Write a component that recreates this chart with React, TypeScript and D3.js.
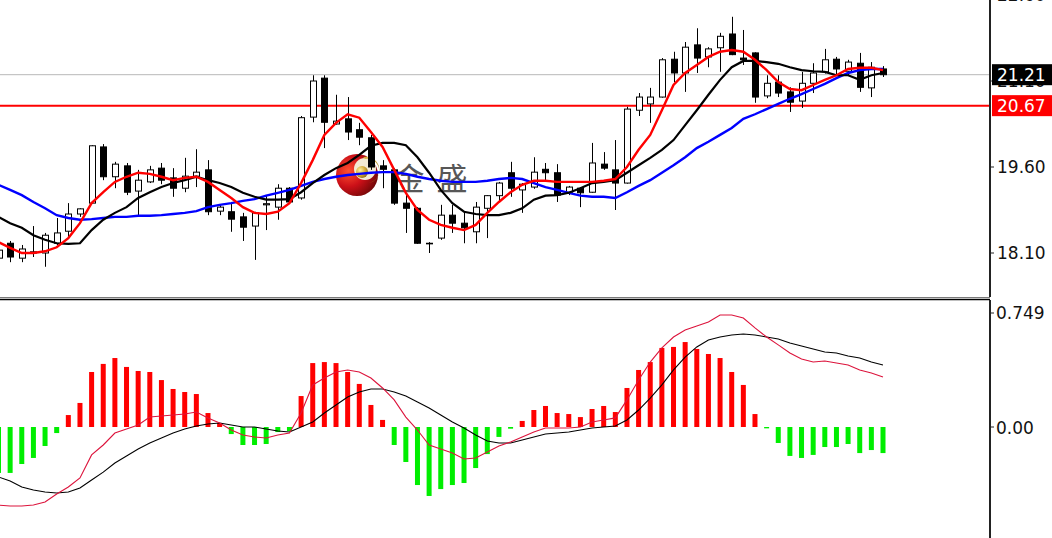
import React from 'react';
import * as d3 from 'd3';

// ---------- price data (one entry per bar) ----------
const opens = [
  18.01, 18.27, 18.01, 18.12, 18.10, 18.27, 18.48, 18.78, 18.97, 19.95,
  19.43, 19.62, 19.18, 19.34, 19.58, 19.41, 19.23, 19.44, 19.55, 18.83,
  18.82, 18.73, 18.57, 18.94, 18.90, 19.23, 19.06, 20.47, 21.15, 20.35,
  20.44, 20.25, 20.11, 19.62, 19.55, 18.97, 18.88, 18.27, 18.36, 18.76,
  18.62, 18.47, 18.88, 19.10, 19.50, 19.20, 19.25, 19.56, 19.50, 19.16,
  19.23, 19.16, 19.65, 19.55, 19.32, 20.59, 20.70, 20.82, 21.48, 21.24,
  21.73, 21.52, 21.68, 21.92, 21.50, 21.59, 20.84, 21.08, 20.91, 20.75,
  21.06, 21.26, 21.48, 21.27, 21.41, 20.98, 21.31,
];
const highs = [
  18.24, 18.31, 18.24, 18.57, 18.45, 18.71, 18.97, 18.88, 19.98, 20.00,
  19.69, 19.67, 19.55, 19.62, 19.67, 19.58, 19.76, 19.91, 19.72, 18.94,
  18.99, 18.80, 18.82, 19.11, 19.30, 19.25, 20.49, 21.20, 21.20, 20.86,
  20.82, 20.37, 20.16, 19.72, 19.58, 19.15, 18.90, 18.29, 18.94, 18.94,
  18.82, 18.99, 19.11, 19.34, 19.69, 19.32, 19.77, 19.67, 19.65, 19.27,
  19.25, 20.02, 19.86, 20.07, 20.65, 20.89, 20.98, 21.50, 21.61, 21.78,
  22.02, 21.69, 21.94, 22.22, 21.99, 21.60, 21.20, 21.20, 20.99, 21.26,
  21.41, 21.66, 21.52, 21.47, 21.59, 21.43, 21.36,
];
const lows = [
  17.80, 17.94, 17.94, 18.03, 17.86, 18.24, 18.38, 18.73, 18.96, 19.37,
  19.23, 19.11, 18.73, 19.32, 19.30, 19.08, 19.16, 19.25, 18.76, 18.76,
  18.47, 18.31, 17.98, 18.50, 18.68, 18.97, 19.03, 20.38, 19.93, 20.34,
  20.07, 19.98, 19.55, 19.23, 18.94, 18.45, 18.26, 18.10, 18.33, 18.45,
  18.27, 18.27, 18.36, 18.99, 19.08, 18.80, 19.22, 19.37, 18.99, 19.11,
  18.90, 19.15, 19.55, 18.85, 19.31, 20.49, 20.37, 20.81, 21.08, 20.91,
  21.24, 21.34, 21.26, 21.55, 21.38, 20.72, 20.80, 20.82, 20.56, 20.63,
  20.89, 21.23, 21.20, 21.20, 20.91, 20.82, 21.17,
];
const closes = [
  18.15, 18.03, 18.17, 18.10, 18.41, 18.45, 18.78, 18.87, 19.97, 19.43,
  19.65, 19.16, 19.37, 19.55, 19.37, 19.23, 19.44, 19.51, 18.82, 18.90,
  18.69, 18.55, 18.80, 18.96, 19.23, 18.99, 20.46, 21.10, 20.38, 20.40,
  20.21, 20.12, 19.60, 19.56, 18.97, 18.88, 18.27, 18.26, 18.76, 18.62,
  18.54, 18.90, 19.10, 19.32, 19.23, 19.30, 19.51, 19.50, 19.11, 19.25,
  19.15, 19.67, 19.58, 19.32, 20.61, 20.82, 20.82, 21.47, 21.24, 21.69,
  21.50, 21.66, 21.88, 21.56, 21.47, 20.82, 21.06, 20.89, 20.73, 21.06,
  21.24, 21.47, 21.31, 21.43, 20.99, 21.34, 21.21,
];

// ---------- moving averages ----------
const maFast = [
  18.29, 18.19, 18.10, 18.10, 18.13, 18.20, 18.36, 18.62, 18.97, 19.16,
  19.34, 19.43, 19.50, 19.48, 19.43, 19.37, 19.41, 19.43, 19.34, 19.20,
  19.06, 18.90, 18.80, 18.78, 18.82, 18.97, 19.32, 19.72, 20.16, 20.37,
  20.52, 20.46, 20.21, 19.95, 19.55, 19.15, 18.85, 18.68, 18.59, 18.54,
  18.50, 18.59, 18.80, 18.99, 19.16, 19.29, 19.36, 19.36, 19.34, 19.34,
  19.34, 19.34, 19.36, 19.39, 19.60, 19.90, 20.16, 20.59, 21.03, 21.24,
  21.38, 21.52, 21.61, 21.64, 21.61, 21.47, 21.29, 21.08, 20.96, 20.94,
  21.03, 21.12, 21.20, 21.31, 21.33, 21.33, 21.29,
];
const maMid = [
  18.73, 18.62, 18.54, 18.41, 18.33, 18.27, 18.26, 18.27, 18.50, 18.68,
  18.80, 18.90, 19.06, 19.16, 19.25, 19.32, 19.37, 19.43, 19.37, 19.32,
  19.25, 19.15, 19.08, 19.03, 19.03, 19.04, 19.16, 19.32, 19.46, 19.58,
  19.67, 19.81, 19.97, 20.02, 20.02, 19.98, 19.77, 19.50, 19.20, 18.97,
  18.82, 18.78, 18.76, 18.76, 18.80, 18.88, 19.03, 19.10, 19.11, 19.15,
  19.23, 19.32, 19.34, 19.37, 19.50, 19.63, 19.76, 19.90, 20.07, 20.33,
  20.59, 20.86, 21.12, 21.34, 21.45, 21.45, 21.43, 21.40, 21.34, 21.29,
  21.27, 21.26, 21.20, 21.20, 21.12, 21.20, 21.24,
];
const maSlow = [
  19.29, 19.20, 19.11, 18.99, 18.88, 18.76, 18.71, 18.68, 18.69, 18.71,
  18.73, 18.73, 18.75, 18.75, 18.76, 18.78, 18.80, 18.83, 18.90, 18.94,
  18.97, 19.01, 19.04, 19.10, 19.15, 19.20, 19.27, 19.34, 19.39, 19.43,
  19.46, 19.48, 19.50, 19.51, 19.51, 19.48, 19.43, 19.39, 19.36, 19.34,
  19.34, 19.34, 19.36, 19.39, 19.41, 19.39, 19.32, 19.25, 19.20, 19.15,
  19.10, 19.08, 19.08, 19.06, 19.16, 19.27, 19.37, 19.50, 19.63, 19.77,
  19.93, 20.04, 20.16, 20.28, 20.44, 20.52, 20.61, 20.70, 20.79, 20.87,
  20.96, 21.05, 21.15, 21.24, 21.29, 21.31, 21.31,
];

// ---------- MACD ----------
const macdHist = [
  -0.273, -0.273, -0.220, -0.184, -0.113, -0.036, 0.071, 0.143, 0.327, 0.375,
  0.410, 0.357, 0.333, 0.327, 0.279, 0.226, 0.208, 0.196, 0.083, 0.024,
  -0.042, -0.107, -0.107, -0.101, -0.030, -0.024, 0.184, 0.380, 0.386, 0.380,
  0.327, 0.256, 0.131, 0.042, -0.107, -0.208, -0.345, -0.410, -0.369, -0.345,
  -0.333, -0.244, -0.161, -0.059, -0.010, 0.036, 0.101, 0.125, 0.083, 0.077,
  0.059, 0.107, 0.125, 0.089, 0.232, 0.339, 0.386, 0.470, 0.476, 0.505,
  0.464, 0.434, 0.410, 0.327, 0.250, 0.077, -0.008, -0.095, -0.172, -0.184,
  -0.166, -0.119, -0.119, -0.101, -0.155, -0.137, -0.155,
];
const macdDif = [
  -0.464, -0.470, -0.470, -0.464, -0.446, -0.398, -0.357, -0.303, -0.166, -0.107,
  -0.036, -0.012, 0.012, 0.059, 0.065, 0.071, 0.077, 0.089, 0.054, 0.024,
  -0.018, -0.048, -0.059, -0.065, -0.048, -0.036, 0.083, 0.250, 0.291, 0.327,
  0.339, 0.327, 0.291, 0.232, 0.161, 0.059, -0.018, -0.107, -0.131, -0.155,
  -0.190, -0.184, -0.149, -0.113, -0.089, -0.059, -0.030, -0.006, -0.006, -0.006,
  0.000, 0.030, 0.042, 0.054, 0.161, 0.279, 0.386, 0.470, 0.535, 0.577,
  0.600, 0.624, 0.666, 0.666, 0.648, 0.589, 0.535, 0.488, 0.440, 0.404,
  0.386, 0.392, 0.380, 0.369, 0.339, 0.321, 0.297,
];
const macdDea = [
  -0.297, -0.321, -0.357, -0.375, -0.386, -0.392, -0.386, -0.363, -0.315, -0.268,
  -0.214, -0.172, -0.131, -0.095, -0.065, -0.036, -0.012, 0.006, 0.018, 0.024,
  0.012, 0.000, 0.000, -0.012, -0.024, -0.030, 0.000, 0.030, 0.083, 0.131,
  0.178, 0.208, 0.226, 0.226, 0.208, 0.184, 0.149, 0.113, 0.071, 0.030,
  -0.006, -0.048, -0.083, -0.095, -0.095, -0.077, -0.059, -0.042, -0.036, -0.030,
  -0.018, -0.006, 0.000, 0.006, 0.042, 0.101, 0.172, 0.250, 0.339, 0.416,
  0.476, 0.517, 0.535, 0.547, 0.553, 0.547, 0.535, 0.523, 0.499, 0.482,
  0.464, 0.446, 0.440, 0.422, 0.410, 0.386, 0.369,
];

// ---------- axis labels / levels ----------
const priceTicks = [22.6, 21.1, 19.6, 18.1];
const macdTop = 0.749;
const macdTicks = [0.749, 0];
const bidPrice = 21.21;
const levelPrice = 20.67;
const watermarkChars = ['金', '盛'];

const W = 1052;
const H = 538;
const AXIS_X = 990;
const MAIN_BOTTOM = 297;
const SUB_TOP = 300;
const FONT = '"DejaVu Sans", Verdana, sans-serif';

export default function App() {
  const n = closes.length;
  const x = d3.scaleLinear().domain([0, n - 1]).range([-1.5, 883]);
  const yP = d3.scaleLinear().domain([18.1, 19.6]).range([253, 167]);
  const yM = d3.scaleLinear().domain([0, macdTop]).range([427, 301]);

  const lineP = (arr: number[]) =>
    d3.line<number>().x((_, i) => x(i)).y((d) => yP(d))(arr) || '';
  const lineM = (arr: number[]) =>
    d3.line<number>().x((_, i) => x(i)).y((d) => yM(d))(arr) || '';

  const fmtP = d3.format('.2f');

  return (
    <svg
      width={W}
      height={H}
      style={{ position: 'absolute', left: 0, top: 0, display: 'block', background: '#fff' }}
    >
      <defs>
        <clipPath id="mainClip">
          <rect x={0} y={0} width={AXIS_X - 1} height={MAIN_BOTTOM} />
        </clipPath>
        <clipPath id="subClip">
          <rect x={0} y={SUB_TOP + 1} width={AXIS_X - 1} height={H - SUB_TOP} />
        </clipPath>
        <radialGradient id="logoRed" cx="30%" cy="40%" r="75%">
          <stop offset="0%" stopColor="#ff5030" />
          <stop offset="50%" stopColor="#cc1018" />
          <stop offset="100%" stopColor="#6a0606" />
        </radialGradient>
        <radialGradient id="logoGold" cx="35%" cy="35%" r="70%">
          <stop offset="0%" stopColor="#fff2a0" />
          <stop offset="60%" stopColor="#d2a838" />
          <stop offset="100%" stopColor="#8e6e14" />
        </radialGradient>
      </defs>
      <rect x={0} y={0} width={W} height={H} fill="#fff" />

      {/* ---------- main pane ---------- */}
      <g clipPath="url(#mainClip)">
        {/* watermark */}
        <g transform="translate(357,175)">
          <circle r={21} fill="url(#logoRed)" />
          <circle cx={8} cy={-6} r={11} fill="#f3ead2" />
          <path
            d="M 6 -18 A 13 13 0 0 1 12 8 A 10 10 0 0 0 8 -16 Z"
            fill="url(#logoGold)"
          />
          <circle cx={5} cy={-3} r={6} fill="url(#logoGold)" />
        </g>
        {watermarkChars.map((c, i) => (
          <text
            key={c}
            x={409 + i * 43}
            y={176}
            textAnchor="middle"
            dominantBaseline="central"
            fontFamily='"Noto Sans CJK SC", sans-serif'
            fontSize={31}
            fill="#3a3a3a"
            opacity={0.85}
          >
            {c}
          </text>
        ))}

        {/* bid line & level line */}
        <line x1={0} x2={AXIS_X} y1={yP(bidPrice)} y2={yP(bidPrice)} stroke="#b8b8b8" strokeWidth={1} />
        <line x1={0} x2={AXIS_X} y1={yP(levelPrice)} y2={yP(levelPrice)} stroke="#ff0000" strokeWidth={2} />

        {/* candles */}
        {closes.map((c, i) => {
          const o = opens[i];
          const cx = Math.round(x(i)) + 0.5;
          const top = yP(Math.max(o, c));
          const bot = yP(Math.min(o, c));
          return (
            <g key={i}>
              <line x1={cx} x2={cx} y1={yP(highs[i])} y2={yP(lows[i])} stroke="#000" strokeWidth={1} />
              <rect
                x={cx - 3}
                y={top}
                width={6}
                height={Math.max(bot - top, 0.6)}
                fill={c >= o ? '#fff' : '#000'}
                stroke="#000"
                strokeWidth={1}
              />
            </g>
          );
        })}

        {/* moving averages */}
        <path d={lineP(maSlow)} fill="none" stroke="#0000ff" strokeWidth={2.4} />
        <path d={lineP(maMid)} fill="none" stroke="#000" strokeWidth={2.2} />
        <path d={lineP(maFast)} fill="none" stroke="#ff0000" strokeWidth={2.4} />
      </g>

      {/* ---------- MACD pane ---------- */}
      <g clipPath="url(#subClip)">
        {macdHist.map((v, i) => (
          <rect
            key={i}
            x={x(i) - 2.5}
            width={5}
            y={yM(Math.max(v, 0))}
            height={Math.max(Math.abs(yM(v) - yM(0)), 1)}
            fill={v >= 0 ? '#ff0000' : '#00ee00'}
          />
        ))}
        <path d={lineM(macdDea)} fill="none" stroke="#000" strokeWidth={1.1} />
        <path d={lineM(macdDif)} fill="none" stroke="#dc143c" strokeWidth={1.1} />
      </g>

      {/* ---------- frame / separators ---------- */}
      <line x1={0} x2={AXIS_X} y1={MAIN_BOTTOM + 0.5} y2={MAIN_BOTTOM + 0.5} stroke="#7a7a7a" strokeWidth={1} />
      <line x1={0} x2={AXIS_X} y1={SUB_TOP - 0.5} y2={SUB_TOP - 0.5} stroke="#000" strokeWidth={1.5} />
      <line x1={AXIS_X} x2={AXIS_X} y1={0} y2={MAIN_BOTTOM} stroke="#222" strokeWidth={2} />
      <line x1={AXIS_X} x2={AXIS_X} y1={SUB_TOP} y2={H} stroke="#222" strokeWidth={2} />

      {/* price axis labels */}
      {priceTicks.map((t) => (
        <g key={t}>
          <line x1={AXIS_X} x2={AXIS_X + 4} y1={yP(t)} y2={yP(t)} stroke="#222" strokeWidth={1} />
          <text
            x={997}
            y={yP(t)}
            dominantBaseline="central"
            fontFamily={FONT}
            fontSize={17}
            fill="#111"
          >
            {fmtP(t)}
          </text>
        </g>
      ))}

      {/* level tags */}
      <rect x={992} y={yP(bidPrice) - 10.5} width={60} height={21} fill="#000" />
      <text x={997} y={yP(bidPrice)} dominantBaseline="central" fontFamily={FONT} fontSize={17} fill="#fff">
        {fmtP(bidPrice)}
      </text>
      <rect x={992} y={yP(levelPrice) - 10.5} width={60} height={21} fill="#ff0000" />
      <text x={997} y={yP(levelPrice)} dominantBaseline="central" fontFamily={FONT} fontSize={17} fill="#fff">
        {fmtP(levelPrice)}
      </text>

      {/* MACD axis labels */}
      {macdTicks.map((t, i) => (
        <g key={t}>
          <line x1={AXIS_X} x2={AXIS_X + 4} y1={yM(t) + (i === 0 ? 12 : 0)} y2={yM(t) + (i === 0 ? 12 : 0)} stroke="#222" strokeWidth={1} />
          <text
            x={996}
            y={yM(t) + (i === 0 ? 12 : 1)}
            dominantBaseline="central"
            fontFamily={FONT}
            fontSize={17}
            fill="#111"
          >
            {i === 0 ? d3.format('.3f')(t) : d3.format('.2f')(t)}
          </text>
        </g>
      ))}
    </svg>
  );
}
